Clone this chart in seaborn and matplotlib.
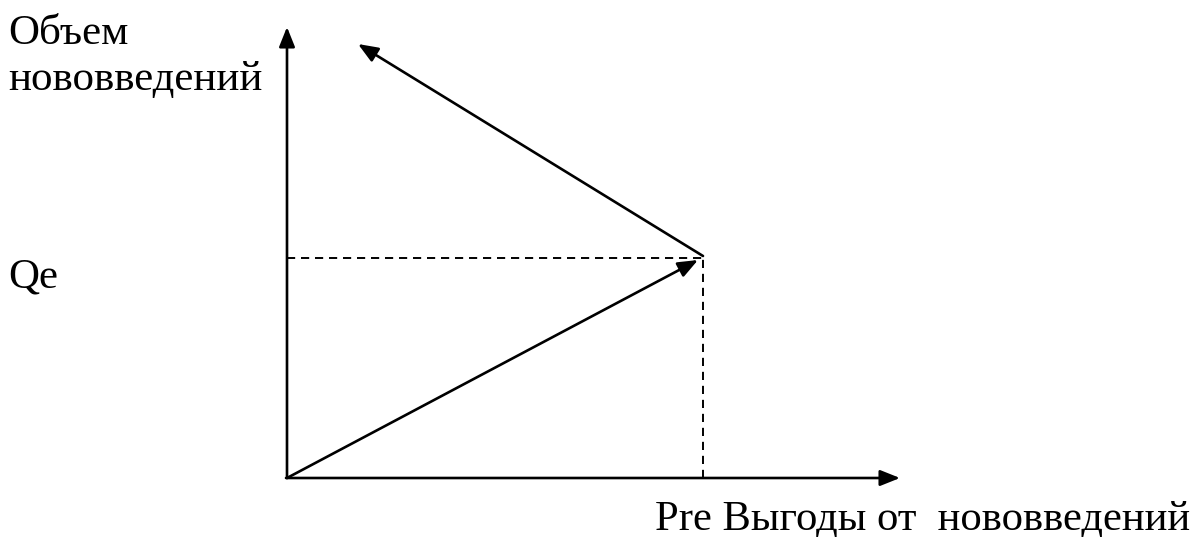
import matplotlib
matplotlib.use("Agg")
import matplotlib.pyplot as plt
import seaborn as sns
import pandas as pd

sns.set_theme(style="white")
plt.rcParams['font.family'] = ['Liberation Serif', 'DejaVu Serif']

# conceptual values (origin at 0,0)
x_axis_end = 613
y_axis_end = 451
pe = [416]          # equilibrium benefit
qe = [220]          # equilibrium volume
upper_end_x = [71]
upper_end_y = [434]
y_label_lines = ["Объем", "нововведений"]
qe_label = "Qe"
x_label = "Pre Выгоды от  нововведений"

fig = plt.figure(figsize=(11.98, 5.37), dpi=100)
ax = fig.add_axes([0, 0, 1, 1])
ax.set_xlim(-287, 1198 - 287)
ax.set_ylim(-59, 537 - 59)
ax.axis("off")

lw = 1.9
# dashed guides
dash_h = pd.DataFrame({"x": [0, pe[0]], "y": [qe[0], qe[0]]})
dash_v = pd.DataFrame({"x": [pe[0], pe[0]], "y": [0, qe[0]]})
for d in (dash_h, dash_v):
    sns.lineplot(data=d, x="x", y="y", ax=ax, color="black", lw=1.4,
                 linestyle=(0, (4.2, 3.0)), sort=False, estimator=None, errorbar=None)

arrow = dict(arrowstyle="-|>,head_length=1.0,head_width=0.4", color="black", lw=lw,
             shrinkA=0, shrinkB=0)
# axes
ax.annotate("", xy=(0, y_axis_end), xytext=(0, 0), arrowprops=arrow)
ax.annotate("", xy=(x_axis_end, 0), xytext=(-1, 0), arrowprops=arrow)
# diagonal lines
ax.annotate("", xy=(pe[0] - 5, qe[0] - 2), xytext=(0, 0), arrowprops=arrow)
ax.annotate("", xy=(upper_end_x[0], upper_end_y[0]), xytext=(pe[0], qe[0] + 2), arrowprops=arrow)

fs = 31
fig.text(8 / 1198, 1 - 44 / 537, y_label_lines[0], fontsize=fs, ha="left", va="baseline", color="black")
fig.text(8 / 1198, 1 - 90 / 537, y_label_lines[1], fontsize=fs, ha="left", va="baseline", color="black")
fig.text(8 / 1198, 1 - 287 / 537, qe_label, fontsize=fs, ha="left", va="baseline", color="black")
fig.text(655 / 1198, 1 - 530 / 537, x_label, fontsize=30.7, ha="left", va="baseline", color="black")

fig.savefig("out.png", dpi=100)
